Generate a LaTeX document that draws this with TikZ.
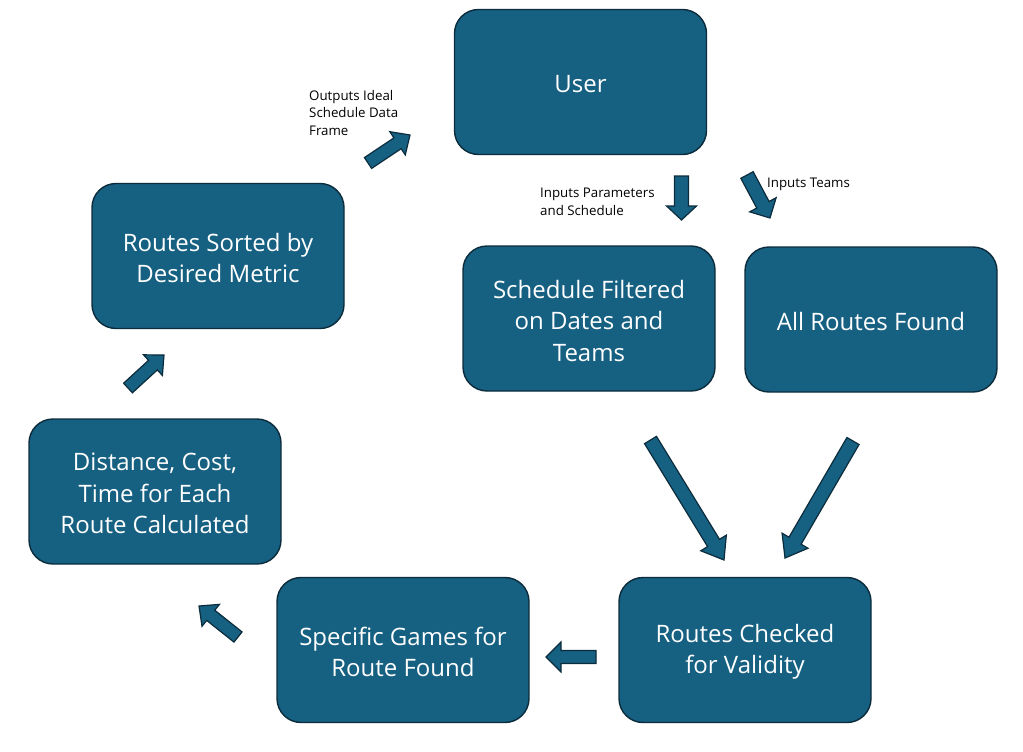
\documentclass[tikz,border=0pt]{standalone}
\usepackage{fontspec}
\setmainfont{Open Sans}
\usetikzlibrary{calc}
\definecolor{boxfill}{RGB}{22,96,130}
\definecolor{boxline}{RGB}{12,44,60}
\tikzset{
  stepbox/.style={draw=boxline, line width=1.4pt, fill=boxfill, rounded corners=24pt,
    minimum width=252pt, minimum height=145pt, text=white, align=center,
    font=\fontsize{24}{31.5}\selectfont, inner sep=0pt},
  txt/.style={text=white, align=center, font=\fontsize{24}{31.5}\selectfont, inner sep=0pt},
  lbl/.style={align=left, anchor=north west, inner sep=0pt,
    font=\fontsize{13.3}{17.5}\selectfont, text=black},
  blk/.style={fill=boxfill, draw=boxline, line width=1.2pt, line join=miter}
}
\newcommand\barrow[5]{%
  \coordinate (hb) at ($(#2)!#5!(#1)$);
  \path[blk] ($(#1)!#3!90:(#2)$) -- ($(hb)!#3!-90:(#1)$) -- ($(hb)!#4!-90:(#1)$)
    -- (#2) -- ($(hb)!#4!90:(#1)$) -- ($(hb)!#3!90:(#1)$) -- ($(#1)!#3!-90:(#2)$) -- cycle;
}
\begin{document}
\begin{tikzpicture}[x=1pt,y=-1pt]
\useasboundingbox (0,0) rectangle (1023,752);
\node[stepbox] (user) at (580.5,82) {};
\node[txt] (tuser) at (580.5,84) {User};
\node[stepbox] (sorted) at (218,256) {};
\node[txt] (tsorted) at (218,258) {Routes Sorted by\\Desired Metric};
\node[stepbox] (sched) at (589,318.5) {};
\node[txt] (tsched) at (589,320.5) {Schedule Filtered\\on Dates and\\Teams};
\node[stepbox] (all) at (871,319.5) {};
\node[txt] (tall) at (871,321.5) {All Routes Found};
\node[stepbox] (dist) at (155,491.5) {};
\node[txt] (tdist) at (155,493.5) {Distance, Cost,\\Time for Each\\Route Calculated};
\node[stepbox] (spec) at (403,650) {};
\node[txt] (tspec) at (403,652) {Specific Games for\\Route Found};
\node[stepbox] (check) at (745,650) {};
\node[txt] (tcheck) at (745,652) {Routes Checked\\for Validity};

\node[lbl] (lout) at (309,90) {Outputs Ideal\\Schedule Data\\Frame};
\node[lbl] (lpar) at (540,188) {Inputs Parameters\\and Schedule};
\node[lbl] (lteam) at (767,178) {Inputs Teams};

% block arrows
\coordinate (a1s) at (368,163); \coordinate (a1t) at (410,135);
\barrow{a1s}{a1t}{6.5pt}{14pt}{15pt}
\coordinate (a2s) at (681.5,176); \coordinate (a2t) at (681.5,220);
\barrow{a2s}{a2t}{7pt}{15pt}{14pt}
\coordinate (a3s) at (747,175); \coordinate (a3t) at (770,218);
\barrow{a3s}{a3t}{7pt}{15pt}{15pt}
\coordinate (a4s) at (650.5,440); \coordinate (a4t) at (724,560);
\barrow{a4s}{a4t}{7pt}{15pt}{20pt}
\coordinate (a5s) at (853,441); \coordinate (a5t) at (785,558);
\barrow{a5s}{a5t}{7pt}{15pt}{20pt}
\coordinate (a6s) at (596,657); \coordinate (a6t) at (546,657);
\barrow{a6s}{a6t}{6.5pt}{15pt}{15pt}
\coordinate (a7s) at (238,637); \coordinate (a7t) at (199,606);
\barrow{a7s}{a7t}{6.5pt}{14pt}{15pt}
\coordinate (a8s) at (128,388); \coordinate (a8t) at (164,355);
\barrow{a8s}{a8t}{6.5pt}{14pt}{15pt}
\end{tikzpicture}
\end{document}
